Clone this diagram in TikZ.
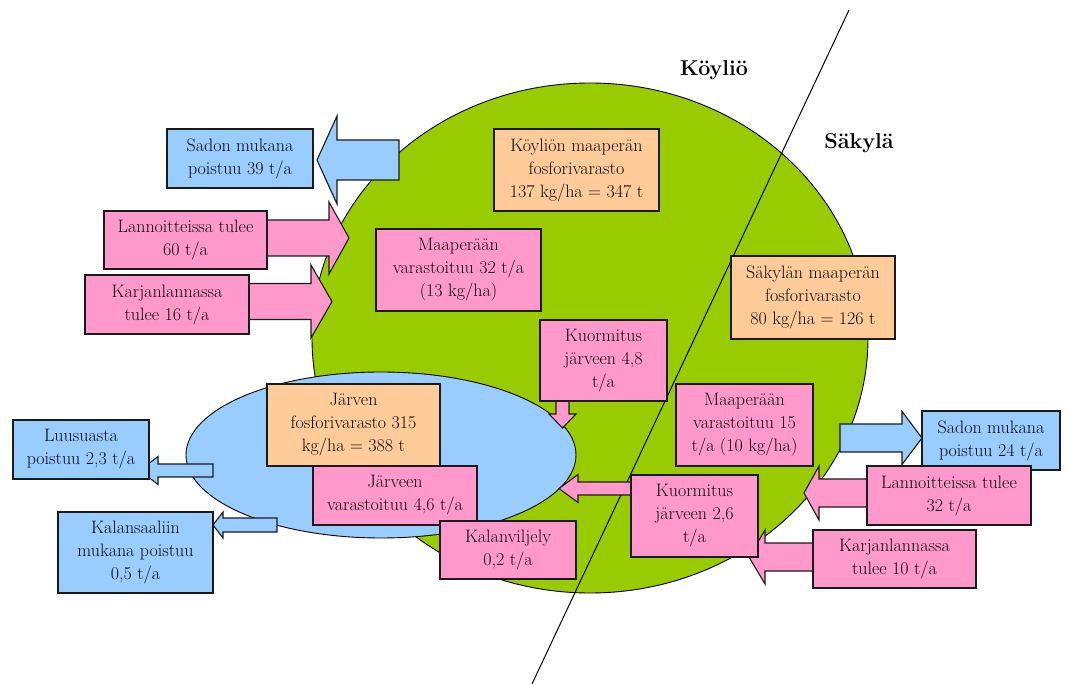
\documentclass[tikz,border=0pt]{standalone}
\usepackage{fontspec}
\usetikzlibrary{shapes.geometric}
\definecolor{grn}{HTML}{99CC00}
\definecolor{lblue}{HTML}{99CCFF}
\definecolor{lpink}{HTML}{FF99CC}
\definecolor{lorange}{HTML}{FFCC99}
\definecolor{edge}{HTML}{1A1A1A}
\definecolor{txt}{HTML}{0A0A0A}
\tikzset{
  box/.style={draw=edge, line width=1.1pt, rectangle, inner sep=0pt, align=center,
     text=txt, font=\fontsize{18}{23}\selectfont},
  bluebox/.style={box, fill=lblue},
  pinkbox/.style={box, fill=lpink},
  orangebox/.style={box, fill=lorange},
  barrow/.style={draw=edge, line width=1.1pt, line join=miter},
  region/.style={font=\bfseries\fontsize{21.5}{26}\selectfont, text=black}
}
% horizontal block arrow: [style] x0, xbase, xtip, cy, shaft half, head half
\newcommand{\harrow}[7][]{\draw[barrow,#1] (#2,#5-#6) -- (#3,#5-#6) -- (#3,#5-#7) -- (#4,#5) -- (#3,#5+#7) -- (#3,#5+#6) -- (#2,#5+#6) -- cycle;}
% vertical block arrow: [style] cx, y0, ybase, ytip, shaft half, head half
\newcommand{\varrow}[7][]{\draw[barrow,#1] (#2-#6,#3) -- (#2-#6,#4) -- (#2-#7,#4) -- (#2,#5) -- (#2+#7,#4) -- (#2+#6,#4) -- (#2+#6,#3) -- cycle;}
\begin{document}
\begin{tikzpicture}[x=1pt,y=-1pt]
\useasboundingbox (0,0) rectangle (1066,684);
% regions
\node[ellipse, draw=black, line width=0.9pt, fill=grn, minimum width=556pt, minimum height=510pt, inner sep=0pt] (land) at (590,338) {};
\coordinate (ltop) at (849,10);
\coordinate (lbot) at (532,684);
\draw[line width=1pt] (ltop) -- (lbot);
\node[ellipse, draw=black, line width=0.9pt, fill=lblue, minimum width=390pt, minimum height=166pt, inner sep=0pt] (lake) at (381,455) {};
\node[region] (koy) at (714,70) {Köyliö};
\node[region] (sak) at (859,143) {Säkylä};
% block arrows
\harrow[fill=lblue]{399}{337}{317}{160}{20}{44}
\harrow[fill=lpink]{267}{329}{349}{238}{18}{36}
\harrow[fill=lpink]{249}{311}{332}{301.5}{18}{36.5}
\varrow[fill=lpink]{562.5}{401}{414}{428}{6.5}{13.5}
\harrow[fill=lpink]{631}{578}{559}{488.5}{6.5}{14}
\harrow[fill=lblue]{840}{902}{922}{438}{14}{26.5}
\harrow[fill=lpink]{867}{819}{804}{493}{14}{27}
\harrow[fill=lpink]{813}{765}{749}{557}{14}{27}
\harrow[fill=lblue]{213}{158}{140}{470.5}{6.5}{14}
\harrow[fill=lblue]{277}{223}{213}{525}{7}{13}
% boxes
\node[bluebox, minimum width=146pt, minimum height=59pt] (sad39) at (240,158.5) {Sadon mukana\\poistuu 39 t/a};
\node[pinkbox, minimum width=163pt, minimum height=58pt] (lan60) at (185.5,240) {Lannoitteissa tulee\\60 t/a};
\node[pinkbox, minimum width=164pt, minimum height=59pt] (kar16) at (167,304.5) {Karjanlannassa\\tulee 16 t/a};
\node[orangebox, minimum width=165pt, minimum height=82pt] (koyvar) at (576.5,170) {Köyliön maaperän\\fosforivarasto\\137 kg/ha = 347 t};
\node[pinkbox, minimum width=165pt, minimum height=82pt] (maa32) at (458.5,270) {Maaperään\\varastoituu 32 t/a\\(13 kg/ha)};
\node[pinkbox, minimum width=127pt, minimum height=81pt] (kuo48) at (603.5,360.5) {Kuormitus\\järveen 4,8\\t/a};
\node[orangebox, minimum width=164pt, minimum height=83pt] (sakvar) at (813,297.5) {Säkylän maaperän\\fosforivarasto\\80 kg/ha = 126 t};
\node[pinkbox, minimum width=137pt, minimum height=82pt] (maa15) at (744.5,425) {Maaperään\\varastoituu 15\\t/a (10 kg/ha)};
\node[pinkbox, minimum width=127pt, minimum height=82pt] (kuo26) at (694.5,516) {Kuormitus\\järveen 2,6\\t/a};
\node[bluebox, minimum width=138pt, minimum height=59pt] (sad24) at (991,440.5) {Sadon mukana\\poistuu 24 t/a};
\node[pinkbox, minimum width=164pt, minimum height=59pt] (lan32) at (949,495.5) {Lannoitteissa tulee\\32 t/a};
\node[pinkbox, minimum width=163pt, minimum height=58pt] (kar10) at (894.5,559) {Karjanlannassa\\tulee 10 t/a};
\node[orangebox, minimum width=173pt, minimum height=82pt] (jarvar) at (353.5,425) {Järven\\fosforivarasto 315\\kg/ha = 388 t};
\node[pinkbox, minimum width=164pt, minimum height=59pt] (jar46) at (395,495.5) {Järveen\\varastoituu 4,6 t/a};
\node[pinkbox, minimum width=136pt, minimum height=58pt] (kalv) at (508,550) {Kalanviljely\\0,2 t/a};
\node[bluebox, minimum width=136pt, minimum height=59pt] (luu) at (81,449.5) {Luusuasta\\poistuu 2,3 t/a};
\node[bluebox, minimum width=155pt, minimum height=81pt] (kals) at (135.5,552.5) {Kalansaaliin\\mukana poistuu\\0,5 t/a};
\end{tikzpicture}
\end{document}
